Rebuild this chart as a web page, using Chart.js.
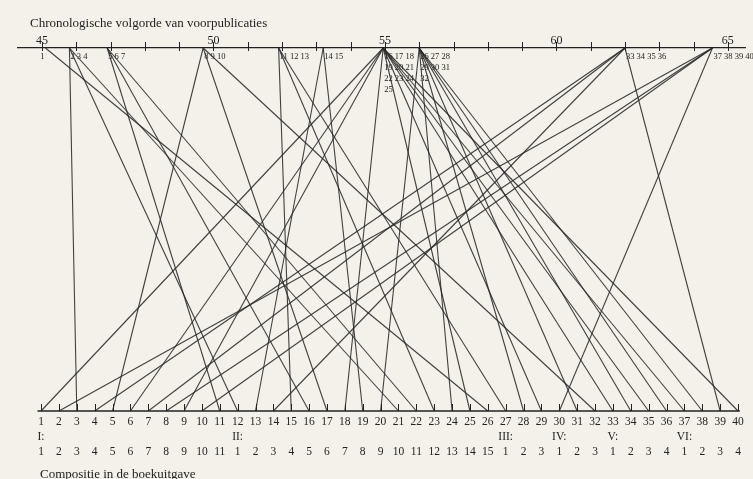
<!DOCTYPE html>
<html>
<head>
<meta charset="utf-8">
<script src="https://cdn.jsdelivr.net/npm/chart.js@4.4.1/dist/chart.umd.min.js"></script>
<style>
  html, body { margin: 0; padding: 0; background: #f3f1e9; }
  #wrap { width: 753px; height: 479px; }
</style>
</head>
<body>
<div id="wrap"><canvas id="chart"></canvas></div>
<script>
// Year of pre-publication for each piece, in chronological order (pieces 1..40)
const pubYear = [
    45.1,
    45.8, 45.8, 45.8,
    46.9, 46.9, 46.9,
    49.7, 49.7, 49.7,
    51.9, 51.9, 51.9,
    53.2, 53.2,
    54.95, 54.95, 54.95, 54.95, 54.95, 54.95, 54.95, 54.95, 54.95, 54.95,
    56.0, 56.0, 56.0, 56.0, 56.0, 56.0, 56.0,
    62.0, 62.0, 62.0, 62.0,
    64.55, 64.55, 64.55, 64.55
];

// Place of each piece (same order as pubYear) in the book edition
const bookPos = [
    26,
    3, 12, 21,
    11, 16, 22,
    5, 17, 32,
    15, 23, 27,
    13, 19,
    1, 6, 9, 18, 25, 29, 33, 35, 37, 40,
    20, 24, 28, 31, 34, 36, 38,
    4, 7, 14, 39,
    2, 8, 10, 30
];

// Axis ticks
const yearTicks = [45, 46, 47, 48, 49, 50, 51, 52, 53, 54, 55, 56, 57, 58, 59, 60, 61, 62, 63, 64, 65];
const bookTicks = [1, 2, 3, 4, 5, 6, 7, 8, 9, 10, 11, 12, 13, 14, 15, 16, 17, 18, 19, 20,
                   21, 22, 23, 24, 25, 26, 27, 28, 29, 30, 31, 32, 33, 34, 35, 36, 37, 38, 39, 40];

// Sections of the book
const chapterNames = ['I', 'II', 'III', 'IV', 'V', 'VI'];
const chapterSizes = [11, 15, 3, 3, 4, 4];

const SERIF = '"Liberation Serif", "DejaVu Serif", serif';
const INK = '#222222';

// chapter label + number inside the chapter for a book position
function chapterInfo(pos) {
    let start = 1;
    for (let c = 0; c < chapterSizes.length; c++) {
        if (pos < start + chapterSizes[c]) {
            return {
                mark: pos === start ? chapterNames[c] + ':' : '',
                local: pos - start + 1
            };
        }
        start += chapterSizes[c];
    }
    return { mark: '', local: '' };
}

// group pieces that share the same publication point
function pubGroups() {
    const groups = [];
    pubYear.forEach((yr, i) => {
        const last = groups[groups.length - 1];
        if (last && last.year === yr) last.items.push(i + 1);
        else groups.push({ year: yr, items: [i + 1] });
    });
    return groups;
}

const linksPlugin = {
    id: 'links',
    beforeDraw(chart) {
        const ctx = chart.ctx;
        ctx.save();
        ctx.fillStyle = '#f3f1e9';
        ctx.fillRect(0, 0, chart.width, chart.height);
        ctx.restore();
    },
    afterDraw(chart) {
        const ctx = chart.ctx;
        const xt = chart.scales.xt;
        const xb = chart.scales.xb;
        const y = chart.scales.y;
        const yTop = y.getPixelForValue(1);
        const yBot = y.getPixelForValue(0);

        ctx.save();

        // piece numbers under the time line (drawn first, lines run over them)
        ctx.fillStyle = INK;
        ctx.font = '8.5px ' + SERIF;
        ctx.textBaseline = 'top';
        pubGroups().forEach(g => {
            const px = xt.getPixelForValue(g.year);
            const rows = [];
            if (g.items.length > 4) {
                for (let k = 0; k < g.items.length; k += 3) rows.push(g.items.slice(k, k + 3));
            } else {
                rows.push(g.items);
            }
            if (g.items.length === 1 && g.items[0] === 1) {
                ctx.textAlign = 'right';
                ctx.fillText('1', px - 1, yTop + 5);
                return;
            }
            ctx.textAlign = 'left';
            rows.forEach((r, ri) => {
                ctx.fillText(r.join(' '), px + 1, yTop + 5 + ri * 11);
            });
        });

        // connecting lines
        ctx.strokeStyle = 'rgba(40, 40, 40, 0.88)';
        ctx.lineWidth = 1.1;
        pubYear.forEach((yr, i) => {
            ctx.beginPath();
            ctx.moveTo(xt.getPixelForValue(yr), yTop);
            ctx.lineTo(xb.getPixelForValue(bookPos[i]), yBot);
            ctx.stroke();
        });

        // top tick marks across the time line
        ctx.strokeStyle = INK;
        ctx.lineWidth = 1;
        yearTicks.forEach(v => {
            const px = Math.round(xt.getPixelForValue(v)) + 0.5;
            ctx.beginPath();
            ctx.moveTo(px, yTop - 6);
            ctx.lineTo(px, yTop + 3);
            ctx.stroke();
        });

        // bottom base line and upward ticks
        ctx.lineWidth = 1.3;
        ctx.beginPath();
        ctx.moveTo(xb.getPixelForValue(0.8), yBot);
        ctx.lineTo(xb.getPixelForValue(40.1), yBot);
        ctx.stroke();
        ctx.lineWidth = 1;
        bookTicks.forEach(v => {
            const px = Math.round(xb.getPixelForValue(v)) + 0.5;
            ctx.beginPath();
            ctx.moveTo(px, yBot);
            ctx.lineTo(px, yBot - 7);
            ctx.stroke();
        });

        // captions
        ctx.fillStyle = INK;
        ctx.font = '13px ' + SERIF;
        ctx.textAlign = 'left';
        ctx.textBaseline = 'middle';
        ctx.fillText('Chronologische volgorde van voorpublicaties', 30, 24);
        ctx.fillText('Compositie in de boekuitgave', 40, 475);

        ctx.restore();
    }
};

new Chart(document.getElementById('chart'), {
    type: 'scatter',
    data: { datasets: [] },
    options: {
        responsive: true,
        maintainAspectRatio: false,
        animation: false,
        layout: {
            padding: { top: 25, left: 18, right: 8, bottom: 0 }
        },
        plugins: {
            legend: { display: false },
            tooltip: { enabled: false }
        },
        scales: {
            xt: {
                type: 'linear',
                position: 'top',
                min: 44.3,
                max: 65.5,
                afterBuildTicks: s => { s.ticks = yearTicks.map(v => ({ value: v })); },
                afterFit: s => { s.height = 23; },
                grid: { drawOnChartArea: false, drawTicks: false },
                border: { display: true, color: INK, width: 1.3 },
                ticks: {
                    autoSkip: false,
                    maxRotation: 0,
                    padding: 0,
                    color: INK,
                    font: { family: SERIF, size: 12 },
                    callback: v => (v % 5 === 0 ? String(v) : '')
                }
            },
            xb: {
                type: 'linear',
                position: 'bottom',
                min: -0.29,
                max: 40.39,
                afterBuildTicks: s => { s.ticks = bookTicks.map(v => ({ value: v })); },
                afterFit: s => { s.height = 68; },
                grid: { drawOnChartArea: false, drawTicks: false },
                border: { display: false },
                ticks: {
                    autoSkip: false,
                    maxRotation: 0,
                    padding: 4,
                    color: INK,
                    font: { family: SERIF, size: 11.5, lineHeight: 1.3 },
                    callback: v => {
                        const info = chapterInfo(v);
                        return [String(v), info.mark, String(info.local)];
                    }
                }
            },
            y: { display: false, min: 0, max: 1 }
        }
    },
    plugins: [linksPlugin]
});
</script>
</body>
</html>
